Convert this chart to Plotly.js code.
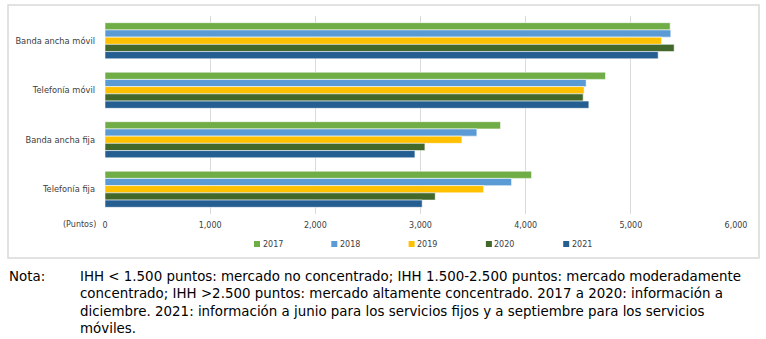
<!DOCTYPE html>
<html>
<head>
<meta charset="utf-8">
<script src="https://cdn.plot.ly/plotly-3.0.1.min.js"></script>
<style>html,body{margin:0;padding:0;background:#fff;}</style>
</head>
<body>
<div id="chart" style="width:766px;height:339px;"></div>
<script>
const categories = ["Banda ancha móvil", "Telefonía móvil", "Banda ancha fija", "Telefonía fija"];
const years = ["2017", "2018", "2019", "2020", "2021"];
const v2017 = [5374, 4759, 3761, 4056];
const v2018 = [5380, 4575, 3536, 3866];
const v2019 = [5292, 4556, 3394, 3600];
const v2020 = [5412, 4547, 3042, 3140];
const v2021 = [5260, 4601, 2947, 3016];
const xTicks = [0, 1000, 2000, 3000, 4000, 5000, 6000];
const xTickLabels = ["0", "1,000", "2,000", "3,000", "4,000", "5,000", "6,000"];
const noteLabel = "Nota:";
const noteLines = [
  "IHH &lt; 1.500 puntos: mercado no concentrado; IHH 1.500-2.500 puntos: mercado moderadamente",
  "concentrado; IHH &gt;2.500 puntos: mercado altamente concentrado. 2017 a 2020: información a",
  "diciembre. 2021: información a junio para los servicios fijos y a septiembre para los servicios",
  "móviles."
];
const unitLabel = "(Puntos)";

const series = [v2017, v2018, v2019, v2020, v2021];
const colors = ["#70AD47", "#5B9BD5", "#FFC000", "#43682B", "#255E91"];
const FONT = 'DejaVu Sans, Verdana, sans-serif';

const W = 766, H = 339;
const M = {l: 105, r: 30, t: 16, b: 125};
const PW = W - M.l - M.r, PH = H - M.t - M.b;
const px2x = p => (p - M.l) / PW;
const px2y = p => (H - M.b - p) / PH;

const traces = series.map((vals, i) => ({
  type: 'bar', orientation: 'h', name: years[i],
  x: vals, y: categories,
  marker: {color: colors[i], line: {color: 'rgba(255,255,255,0.7)', width: 0.8}},
  showlegend: false, hoverinfo: 'x'
}));

const annotations = [
  {xref: 'paper', yref: 'paper', x: px2x(98), y: px2y(224), xanchor: 'right', yanchor: 'middle',
   text: unitLabel, showarrow: false, font: {family: FONT, size: 8, color: '#404040'}},
  {xref: 'paper', yref: 'paper', x: px2x(7), y: px2y(266.5), xanchor: 'left', yanchor: 'top',
   text: noteLabel, showarrow: false, align: 'left',
   font: {family: FONT, size: 13.4, color: '#000'}},
  {xref: 'paper', yref: 'paper', x: px2x(78), y: px2y(266.5), xanchor: 'left', yanchor: 'top',
   text: noteLines.join('<br>'), showarrow: false, align: 'left',
   font: {family: FONT, size: 13.4, color: '#000'}}
];

const shapes = [
  {type: 'rect', xref: 'paper', yref: 'paper',
   x0: px2x(8), x1: px2x(759), y0: px2y(258), y1: px2y(5),
   line: {color: '#D9D9D9', width: 1.5}, fillcolor: 'rgba(0,0,0,0)', layer: 'below'}
];

// manual legend: small squares + labels
const legStart = 254, legStep = 77.3, legY = 244;
years.forEach((yr, i) => {
  const sx = legStart + legStep * i;
  shapes.push({type: 'rect', xref: 'paper', yref: 'paper',
    x0: px2x(sx), x1: px2x(sx + 6), y0: px2y(legY + 3), y1: px2y(legY - 3),
    line: {width: 0}, fillcolor: colors[i]});
  annotations.push({xref: 'paper', yref: 'paper', x: px2x(sx + 6.5), y: px2y(legY),
    xanchor: 'left', yanchor: 'middle', text: yr, showarrow: false,
    font: {family: FONT, size: 8, color: '#404040'}});
});

const layout = {
  width: W, height: H,
  margin: M,
  paper_bgcolor: '#fff', plot_bgcolor: '#fff',
  barmode: 'group', bargap: 0.27, bargroupgap: 0,
  font: {family: FONT, size: 8, color: '#404040'},
  xaxis: {
    range: [0, 6000], tickvals: xTicks, ticktext: xTickLabels,
    showgrid: true, gridcolor: '#D9D9D9', gridwidth: 1,
    zeroline: false, showline: false, ticks: '', ticklen: 0,
    ticklabelstandoff: 5,
    tickfont: {size: 8, color: '#404040'}, fixedrange: true
  },
  yaxis: {
    autorange: 'reversed', type: 'category',
    showgrid: false, zeroline: false, showline: false, ticks: '',
    ticklabelstandoff: 9,
    tickfont: {size: 8.3, color: '#404040'}, fixedrange: true
  },
  showlegend: false,
  annotations: annotations,
  shapes: shapes
};

Plotly.newPlot('chart', traces, layout, {displayModeBar: false, staticPlot: true});
</script>
</body>
</html>
